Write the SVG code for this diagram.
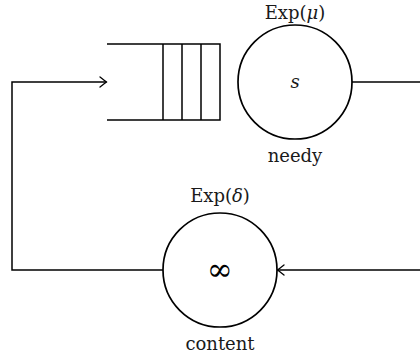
<svg xmlns="http://www.w3.org/2000/svg" width="420" height="361" viewBox="0 0 420 361">
  <style>
    .ln { fill: none; stroke: #000; stroke-width: 1.5; }
    .node { fill: #fff; stroke: #000; stroke-width: 1.7; }
    .lbl { font-family: "DejaVu Serif", "Liberation Serif", serif; font-size: 18px; fill: #1a1a1a; text-anchor: middle; }
    .math { font-style: italic; }
    .sym { font-family: "DejaVu Serif", "Liberation Serif", serif; font-size: 31px; fill: #000; text-anchor: middle; }
  </style>
  <defs>
    <marker id="to" viewBox="-8 -6 10 12" markerWidth="10" markerHeight="12" refX="0" refY="0" orient="auto" markerUnits="userSpaceOnUse">
      <path d="M -6.5,-5 Q -1.5,-1.2 0,0 Q -1.5,1.2 -6.5,5" fill="none" stroke="#000" stroke-width="1.3" stroke-linecap="round"/>
    </marker>
  </defs>

  <!-- connectors -->
  <g id="connectors">
    <!-- output of the service station back to the loop -->
    <path class="ln" d="M 352,82 H 420"/>
    <path class="ln" d="M 420,270 H 277.5" marker-end="url(#to)"/>
    <!-- return to the queue -->
    <path class="ln" d="M 163,270 H 12 V 82 H 106.5" marker-end="url(#to)"/>
  </g>

  <!-- waiting line -->
  <g id="queue">
    <path class="ln" d="M 107,44 H 220 V 120 H 107"/>
    <path class="ln" d="M 163,44 V 120 M 182,44 V 120 M 201,44 V 120"/>
  </g>

  <!-- needy station -->
  <g id="needy">
    <circle class="node" cx="295" cy="82" r="57"/>
    <text class="lbl" x="295" y="19">Exp(<tspan class="math">μ</tspan>)</text>
    <text class="lbl math" x="295" y="88" font-size="23">s</text>
    <text class="lbl" x="295" y="162">needy</text>
  </g>

  <!-- content station -->
  <g id="content">
    <circle class="node" cx="220" cy="270" r="57"/>
    <text class="lbl" x="220" y="202">Exp(<tspan class="math">δ</tspan>)</text>
    <text class="sym" x="220" y="280">∞</text>
    <text class="lbl" x="220" y="350">content</text>
  </g>
</svg>
